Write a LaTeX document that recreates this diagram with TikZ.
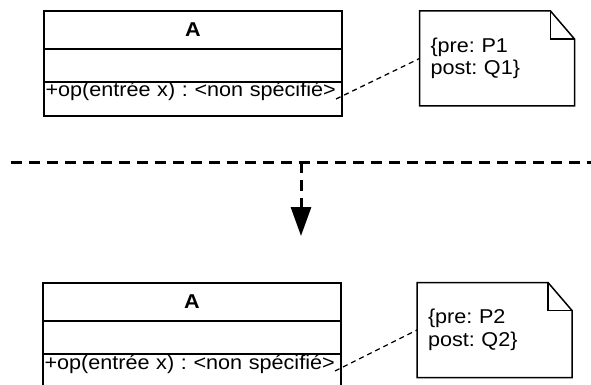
\documentclass[tikz,border=0pt]{standalone}
\usepackage{fontspec}
\setmainfont[FakeStretch=1.08]{Liberation Sans}
\usetikzlibrary{positioning,arrows.meta}
\begin{document}
\begin{tikzpicture}[
        x=1pt, y=-1pt,
        titre/.style={rectangle, draw=black, line width=2pt, outer sep=0pt, minimum width=298pt, minimum height=38pt, font=\fontsize{20}{22.5}\selectfont\bfseries},
        attribut/.style={rectangle, draw=black, line width=2pt, outer sep=0pt, minimum width=298pt, minimum height=33pt},
        operation/.style={rectangle, draw=black, line width=2pt, outer sep=0pt, inner xsep=1.5pt, inner ysep=0pt, text width=295pt, align=left, text height=15pt, text depth=19pt, font=\fontsize{20}{22.5}\selectfont\frenchspacing},
        notetexte/.style={rectangle, outer sep=0pt, minimum width=155pt, minimum height=95pt, inner xsep=11pt, text width=133pt, align=left, font=\fontsize{20}{22.5}\selectfont\frenchspacing},
        contour/.style={line width=1.5pt},
        lien/.style={line width=1.3pt, dash pattern=on 5pt off 4pt},
        separateur/.style={line width=3pt, dash pattern=on 11pt off 7pt},
        fleche/.style={separateur, -{Triangle[width=20pt,length=29pt]}}
    ]
        \useasboundingbox (0,0) rectangle (591,385);

        % classe avant
        \node[titre] (titreA) at (193,30) {A};
        \node[attribut, below=0pt of titreA] (attrA) {};
        \node[operation, below=0pt of attrA] (opA) {+op(entrée x) : <non spécifié>};
        \node[notetexte] (noteA) at (497,58.5) {\{pre: P1\\post: Q1\}};

        % classe apres
        \node[titre] (titreB) at (192,302) {A};
        \node[attribut, below=0pt of titreB] (attrB) {};
        \node[operation, below=0pt of attrB] (opB) {+op(entrée x) : <non spécifié>};
        \node[notetexte] (noteB) at (494.5,330) {\{pre: P2\\post: Q2\}};

        % notes avec coin plie
        \foreach \n in {noteA, noteB} {
            \draw[contour] (\n.north west) -- ([xshift=-24pt]\n.north east) -- ([yshift=-28pt]\n.north east) -- (\n.south east) -- (\n.south west) -- cycle;
            \draw[contour] ([xshift=-24pt]\n.north east) |- ([yshift=-28pt]\n.north east);
        }

        \draw[lien] ([xshift=-6pt]opA.east) -- (noteA.west);
        \draw[lien] ([xshift=-6pt]opB.east) -- (noteB.west);

        % raffinement
        \coordinate (sepG) at (11,162);
        \coordinate (sepD) at (591,162);
        \coordinate (sepM) at (301,162);
        \coordinate (pointe) at (301,236);
        \draw[separateur] (sepG) -- (sepD);
        \draw[fleche] (sepM) -- (pointe);
    \end{tikzpicture}
\end{document}
